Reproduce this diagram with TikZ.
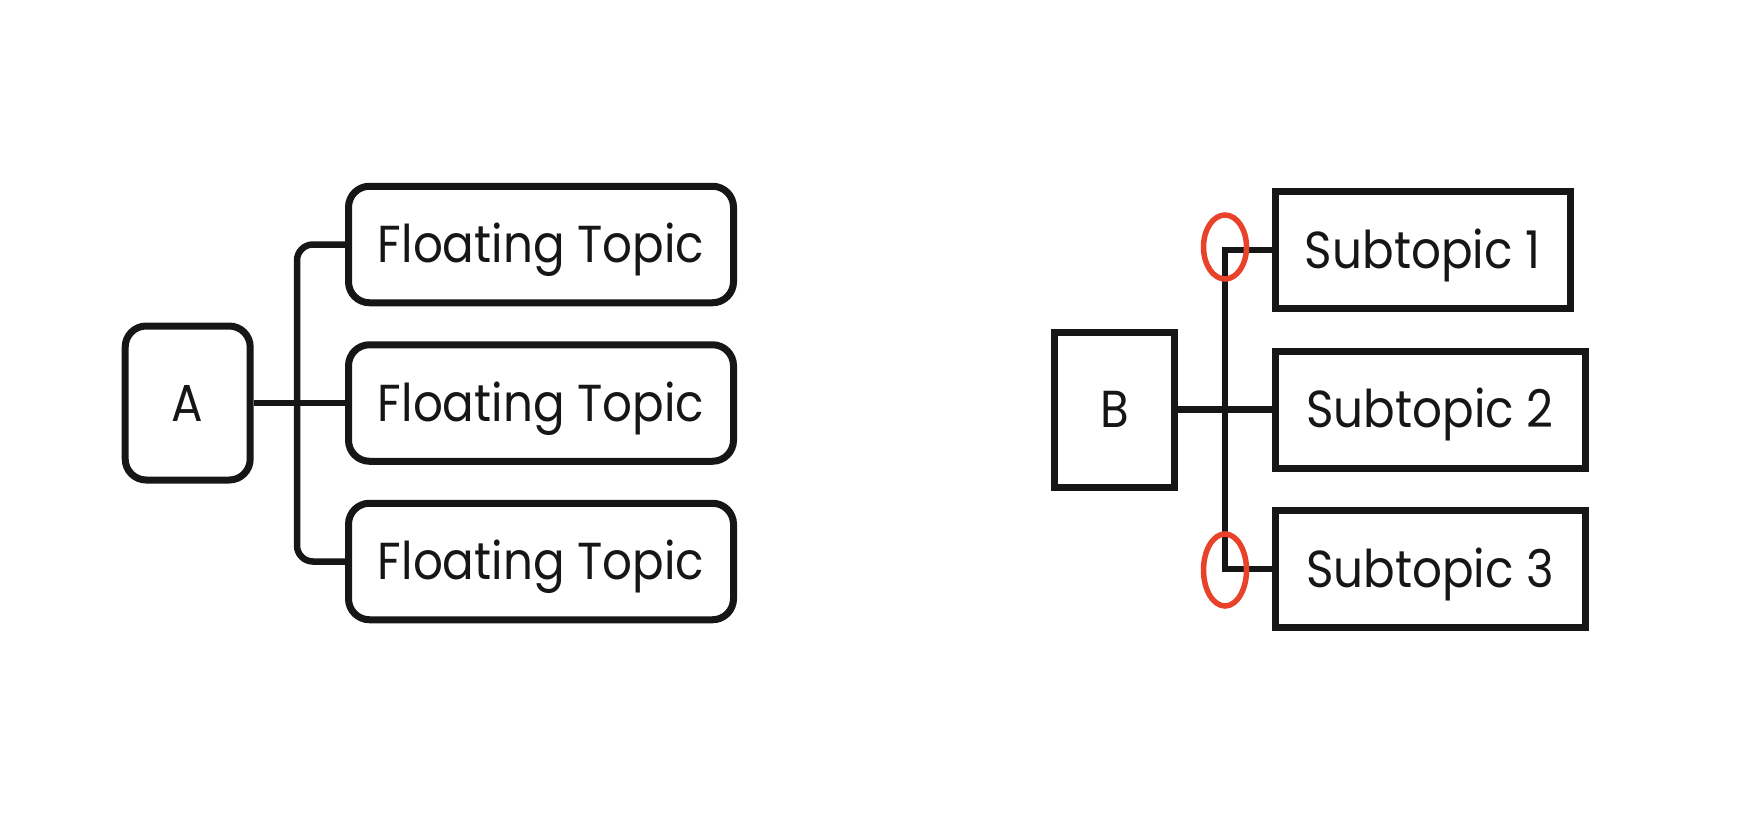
\documentclass[tikz,border=0pt]{standalone}
\usepackage{fontspec}
\setmainfont{Poppins}[FakeStretch=0.9]
\usetikzlibrary{shapes.geometric}
\definecolor{ink}{HTML}{161616}
\definecolor{mark}{HTML}{E8432A}
\begin{document}
\begin{tikzpicture}[x=1pt,y=-1pt,
  box/.style={draw=ink,line width=7pt,inner sep=0pt,font=\fontsize{52}{62}\selectfont,text=ink,text height=36pt,text depth=0pt},
  rbox/.style={box,rounded corners=21pt},
  conn/.style={draw=ink,line width=6.5pt},
  ring/.style={draw=mark,line width=5.5pt,ellipse,inner sep=0pt}]
\useasboundingbox (0,0) rectangle (1752,822);
% left group
\node[rbox,minimum width=125pt,minimum height=154pt] (a) at (187.7,403) {A};
\node[rbox,minimum width=385pt,minimum height=116.5pt] (ft1) at (541,244.5) {Floating Topic};
\node[rbox,minimum width=385pt,minimum height=116.5pt] (ft2) at (541,403) {Floating Topic};
\node[rbox,minimum width=385pt,minimum height=116.5pt] (ft3) at (541,561.5) {Floating Topic};
\coordinate (lj) at (297,403);
\draw[conn] (a.east) -- (ft2.west);
\draw[conn,rounded corners=16pt] (ft1.west) -| (lj) |- (ft3.west);
% right group
\node[box,minimum width=120pt,minimum height=155pt] (b) at (1114.5,409.5) {B};
\node[box,minimum width=295pt,minimum height=117pt] (s1) at (1422.5,250) {Subtopic 1};
\node[box,minimum width=310pt,minimum height=117pt] (s2) at (1430,409.5) {Subtopic 2};
\node[box,minimum width=310pt,minimum height=117pt] (s3) at (1430,569) {Subtopic 3};
\coordinate (rj) at (1225,409.5);
\draw[conn] (b.east) -- (s2.west);
\draw[conn] (s1.west) -| (rj) |- (s3.west);
\node[ring,minimum width=43pt,minimum height=64pt] (e1) at (1225,247) {};
\node[ring,minimum width=43pt,minimum height=72pt] (e2) at (1225,570) {};
\end{tikzpicture}
\end{document}
